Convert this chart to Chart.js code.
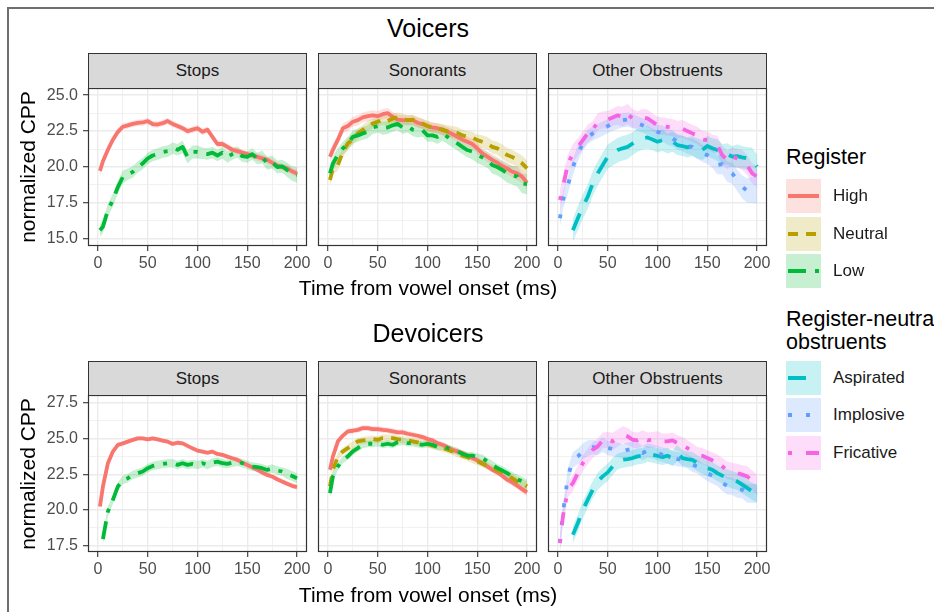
<!DOCTYPE html>
<html>
<head>
<meta charset="utf-8">
<script src="https://cdn.jsdelivr.net/npm/chart.js@4.4.1/dist/chart.umd.min.js"></script>
<style>
  html, body { margin: 0; padding: 0; background: #fff; }
  body { width: 934px; height: 612px; overflow: hidden; position: relative; font-family: "Liberation Sans", Arial, sans-serif; }
  #frame { position: absolute; left: 7px; top: 7px; width: 1200px; height: 1200px; border-left: 2px solid #6e6e6e; border-top: 2px solid #6e6e6e; }
  .c { position: absolute; transform: translate(-50%, -50%); white-space: nowrap; color: #000; }
  .rot { transform: translate(-50%, -50%) rotate(-90deg); }
  .strip { position: absolute; box-sizing: border-box; background: #D9D9D9; border: 1px solid #333; color: #1A1A1A; font-size: 17px; display: flex; align-items: center; justify-content: center; }
  canvas { position: absolute; }
  .lg-title { position: absolute; left: 786px; font-size: 21.5px; line-height: 23px; white-space: nowrap; color: #000; }
  .lg-key { position: absolute; left: 786px; width: 35px; height: 34px; }
  .lg-lab { position: absolute; left: 833px; font-size: 17px; color: #1A1A1A; transform: translateY(-50%); white-space: nowrap; }
</style>
</head>
<body>
<div id="frame"></div>
<script>
// time axis (ms) shared by every series
const time = [2, 5, 10, 15, 20, 25, 30, 35, 40, 45, 50, 55, 60, 65, 70, 75, 80, 85, 90, 95, 100,
  105, 110, 115, 120, 125, 130, 135, 140, 145, 150, 155, 160, 165, 170, 175, 180, 185, 190, 195, 200];
const xTicks = [0, 25, 50, 75, 100, 125, 150, 175, 200];
const yTicksVoicers = [15, 16.25, 17.5, 18.75, 20, 21.25, 22.5, 23.75, 25];
const yTicksDevoicers = [17.5, 18.75, 20, 21.25, 22.5, 23.75, 25, 26.25, 27.5];
const facetNames = ["Stops", "Sonorants", "Other Obstruents"];
const rowTitles = ["Voicers", "Devoicers"];
const registerNames = ["High", "Neutral", "Low"];
const obstruentNames = ["Aspirated", "Implosive", "Fricative"];

// ---- Voicers ----
const stopsHighV = [19.73,
  20.4, 21.2, 21.9, 22.45, 22.8, 22.9, 23.0, 23.07, 23.1, 23.2,
  22.98, 22.96, 23.05, 23.2, 23.0, 22.85, 22.7, 22.5, 22.6, 22.7,
  22.45, 22.6, 22.1, 21.6, 21.6, 21.4, 21.2, 21.1, 21.0, 20.9,
  20.8, 20.7, 20.6, 20.5, 20.3, 20.1, 20.0, 19.9, 19.7, 19.55];
const stopsLowV = [15.6,
  15.84, 17.0, 17.7, 18.6, 19.3, 19.5, 19.66, 20.0, 20.25, 20.6,
  20.8, 20.9, 21.05, 21.1, 21.3, 21.2, 21.4, 20.7, 21.05, 21.05,
  20.95, 20.9, 21.0, 20.8, 21.0, 20.7, 20.9, 21.05, 20.75, 20.7,
  20.9, 20.6, 20.7, 20.25, 20.35, 20.0, 20.05, 19.8, 19.55, 19.45];
const sonHighV = [20.72,
  21.2, 21.9, 22.7, 22.85, 23.15, 23.26, 23.45, 23.54, 23.6, 23.54,
  23.68, 23.75, 23.5, 23.3, 23.26, 23.26, 23.26, 23.08, 22.99, 22.85,
  22.75, 22.7, 22.57, 22.45, 22.3, 22.1, 21.9, 21.76, 21.6, 21.3,
  20.95, 20.72, 20.5, 20.3, 20.07, 19.9, 19.68, 19.56, 19.33, 18.9];
const sonNeutV = [19.1,
  19.9, 20.14, 21.07, 21.64, 21.92, 22.34, 22.57, 22.85, 23.03, 23.15,
  23.3, 23.2, 23.38, 23.45, 23.38, 23.26, 23.3, 23.15, 23.03, 22.85,
  22.75, 22.7, 22.6, 22.5, 22.45, 22.38, 22.2, 22.1, 22.06, 21.87,
  21.76, 21.64, 21.4, 21.3, 21.07, 20.83, 20.7, 20.5, 20.25, 19.9];
const sonLowV = [19.56,
  20.25, 20.83, 21.3, 21.64, 22.1, 22.2, 22.34, 22.45, 22.75, 22.85,
  22.7, 22.75, 22.9, 23.0, 22.75, 22.85, 22.6, 22.5, 22.55, 22.2,
  22.2, 22.1, 22.34, 22.1, 21.87, 21.64, 21.4, 21.18, 21.07, 20.83,
  20.67, 20.49, 20.14, 20.0, 19.8, 19.56, 19.44, 19.33, 18.87, 18.8];
const aspV = [null,
  null, null, 15.6, 16.43, 17.25, 17.94, 18.87, 19.56, 20.14, 20.72,
  20.95, 21.18, 21.3, 21.4, 21.64, 21.87, 22.0, 22.06, 21.92, 21.76,
  21.87, 21.64, 21.76, 21.53, 21.46, 21.37, 21.46, 21.3, 21.18, 21.46,
  21.3, 21.18, 20.83, 20.9, 20.72, 20.76, 20.67, 20.6, 20.49, 20.02];
const impV = [16.43,
  17.7, 18.75, 20.0, 20.95, 21.64, 22.1, 22.34, 22.5, 22.67, 22.85,
  23.03, 23.15, 23.26, 23.3, 23.2, 23.03, 22.9, 22.75, 22.6, 22.45,
  22.34, 22.1, 22.0, 21.76, 21.64, 21.46, 21.4, 21.18, 20.95, 20.83,
  20.6, 20.14, 20.2, 19.68, 19.56, 19.1, 18.63, 18.36, 18.4, 18.36];
const fricV = [17.7,
  18.63, 20.2, 20.95, 21.4, 21.87, 22.34, 22.6, 23.15, 23.26, 23.3,
  23.45, 23.6, 23.5, 23.68, 23.38, 23.26, 23.45, 23.38, 23.15, 22.9,
  22.85, 22.8, 22.75, 22.6, 22.67, 22.5, 22.34, 22.2, 21.92, 21.87,
  21.64, 21.53, 20.83, 20.49, 20.72, 20.6, 20.49, 20.14, 19.56, 19.33];

// ribbon half widths (Voicers)
const seStopsHighV = [0.35,
  0.3, 0.3, 0.25, 0.25, 0.22, 0.22, 0.22, 0.22, 0.22, 0.22,
  0.22, 0.22, 0.22, 0.22, 0.22, 0.22, 0.22, 0.22, 0.22, 0.22,
  0.22, 0.22, 0.22, 0.22, 0.22, 0.22, 0.22, 0.22, 0.22, 0.22,
  0.22, 0.25, 0.25, 0.25, 0.25, 0.25, 0.25, 0.25, 0.25, 0.25];
const seStopsLowV = [0.45,
  0.45, 0.45, 0.45, 0.45, 0.45, 0.4, 0.4, 0.4, 0.4, 0.4,
  0.4, 0.4, 0.4, 0.4, 0.4, 0.4, 0.45, 0.45, 0.45, 0.45,
  0.4, 0.4, 0.4, 0.4, 0.4, 0.4, 0.4, 0.4, 0.4, 0.4,
  0.4, 0.4, 0.45, 0.45, 0.45, 0.45, 0.45, 0.5, 0.5, 0.55];
const seSonHighV = [0.4,
  0.4, 0.35, 0.35, 0.35, 0.35, 0.35, 0.35, 0.35, 0.35, 0.35,
  0.35, 0.35, 0.35, 0.35, 0.35, 0.35, 0.35, 0.35, 0.35, 0.35,
  0.35, 0.35, 0.35, 0.35, 0.35, 0.35, 0.35, 0.35, 0.35, 0.35,
  0.35, 0.35, 0.4, 0.4, 0.4, 0.4, 0.4, 0.45, 0.45, 0.45];
const seSonNeutV = [0.45,
  0.4, 0.4, 0.4, 0.4, 0.4, 0.35, 0.35, 0.35, 0.35, 0.35,
  0.35, 0.35, 0.35, 0.35, 0.35, 0.35, 0.35, 0.35, 0.35, 0.35,
  0.35, 0.35, 0.4, 0.4, 0.4, 0.4, 0.4, 0.4, 0.4, 0.4,
  0.45, 0.45, 0.45, 0.45, 0.5, 0.5, 0.5, 0.5, 0.55, 0.55];
const seSonLowV = [0.5,
  0.5, 0.5, 0.45, 0.45, 0.45, 0.45, 0.45, 0.45, 0.45, 0.45,
  0.45, 0.45, 0.45, 0.45, 0.45, 0.45, 0.45, 0.45, 0.45, 0.45,
  0.45, 0.5, 0.5, 0.5, 0.5, 0.5, 0.5, 0.5, 0.55, 0.55,
  0.55, 0.55, 0.6, 0.6, 0.6, 0.65, 0.65, 0.7, 0.7, 0.7];
const seAspV = [null,
  null, null, 0.8, 0.85, 0.85, 0.85, 0.85, 0.85, 0.85, 0.85,
  0.85, 0.85, 0.85, 0.85, 0.8, 0.8, 0.8, 0.8, 0.75, 0.75,
  0.75, 0.7, 0.7, 0.7, 0.7, 0.7, 0.7, 0.7, 0.7, 0.7,
  0.7, 0.75, 0.75, 0.75, 0.75, 0.8, 0.8, 0.8, 0.85, 0.85];
const seImpV = [0.6,
  0.6, 0.6, 0.55, 0.55, 0.5, 0.5, 0.5, 0.5, 0.5, 0.5,
  0.5, 0.5, 0.5, 0.5, 0.5, 0.5, 0.5, 0.5, 0.5, 0.5,
  0.55, 0.55, 0.55, 0.55, 0.55, 0.55, 0.6, 0.6, 0.6, 0.6,
  0.65, 0.65, 0.7, 0.7, 0.75, 0.75, 0.8, 0.85, 0.9, 0.9];
const seFricV = [0.7,
  0.7, 0.65, 0.65, 0.6, 0.6, 0.6, 0.6, 0.6, 0.6, 0.6,
  0.6, 0.65, 0.7, 0.7, 0.65, 0.6, 0.6, 0.6, 0.6, 0.6,
  0.6, 0.6, 0.6, 0.6, 0.6, 0.6, 0.6, 0.6, 0.6, 0.6,
  0.6, 0.65, 0.65, 0.65, 0.65, 0.65, 0.7, 0.7, 0.7, 0.7];

// ---- Devoicers ----
const stopsHighD = [20.24,
  21.64, 23.27, 24.08, 24.55, 24.66, 24.78, 24.9, 25.01, 25.0, 24.94,
  25.0, 24.94, 24.85, 24.78, 24.62, 24.7, 24.66, 24.48, 24.31, 24.15,
  24.08, 24.0, 24.08, 23.92, 23.85, 23.73, 23.62, 23.5, 23.31, 23.15,
  22.99, 22.8, 22.62, 22.45, 22.34, 22.15, 21.99, 21.83, 21.69, 21.6];
const stopsLowD = [null,
  17.96, 19.9, 20.71, 21.64, 22.1, 22.22, 22.45, 22.57, 22.69, 22.92,
  23.08, 23.15, 23.22, 23.27, 23.27, 23.15, 23.27, 23.15, 23.22, 23.15,
  23.27, 23.15, 23.31, 23.38, 23.27, 23.22, 23.31, 23.38, 23.27, 23.15,
  23.03, 22.99, 22.92, 22.8, 22.9, 22.76, 22.69, 22.52, 22.38, 22.22];
const sonHighD = [22.81,
  23.75, 24.8, 25.2, 25.5, 25.54, 25.6, 25.73, 25.73, 25.66, 25.66,
  25.6, 25.57, 25.5, 25.43, 25.43, 25.33, 25.26, 25.19, 25.1, 24.96,
  24.87, 24.68, 24.56, 24.4, 24.21, 24.1, 23.98, 23.8, 23.63, 23.47,
  23.28, 23.05, 22.81, 22.63, 22.4, 22.12, 21.93, 21.7, 21.46, 21.23];
const sonNeutD = [21.65,
  22.81, 23.75, 24.1, 24.33, 24.56, 24.8, 24.87, 24.91, 24.96, 24.91,
  25.03, 25.03, 25.03, 24.96, 24.91, 24.87, 24.8, 24.73, 24.68, 24.61,
  24.5, 24.45, 24.33, 24.21, 24.1, 23.93, 23.8, 23.7, 23.51, 23.4,
  23.23, 23.09, 22.93, 22.77, 22.63, 22.4, 22.23, 22.0, 21.88, 21.65];
const sonLowD = [21.18,
  22.35, 23.05, 23.51, 23.75, 24.1, 24.33, 24.56, 24.63, 24.63, 24.68,
  24.56, 24.63, 24.56, 24.73, 24.8, 24.68, 24.68, 24.61, 24.56, 24.63,
  24.56, 24.4, 24.45, 24.33, 24.21, 24.1, 23.93, 23.8, 23.8, 23.7,
  23.63, 23.4, 23.16, 22.93, 22.77, 22.58, 22.35, 22.16, 22.0, 21.77];
const aspD = [null,
  null, null, 18.27, 19.09, 20.02, 20.72, 21.42, 22.0, 22.35, 22.63,
  23.05, 23.4, 23.51, 23.56, 23.63, 23.75, 23.79, 23.93, 23.86, 23.79,
  23.7, 23.79, 23.63, 23.98, 23.63, 23.56, 23.51, 23.28, 23.09, 22.93,
  22.81, 22.58, 22.4, 22.23, 22.12, 22.0, 21.77, 21.54, 21.3, 21.14];
const impD = [17.69,
  19.8, 22.35, 23.51, 23.75, 24.1, 24.33, 24.4, 24.33, 24.56, 24.33,
  24.26, 24.21, 24.1, 24.21, 24.26, 24.21, 23.98, 24.17, 24.1, 23.98,
  23.86, 23.75, 23.63, 23.56, 23.51, 23.4, 23.16, 23.05, 22.77, 22.58,
  22.4, 22.23, 21.88, 21.7, 21.65, 21.46, 21.42, 21.18, 21.14, 21.18];
const fricD = [17.69,
  19.55, 21.42, 21.88, 22.58, 23.28, 23.75, 24.21, 24.45, 24.87, 24.91,
  24.8, 25.03, 25.26, 25.15, 24.91, 24.87, 25.03, 24.87, 24.91, 24.96,
  24.8, 24.8, 24.87, 24.68, 24.56, 24.33, 24.1, 23.86, 23.79, 23.63,
  23.47, 23.28, 23.05, 22.77, 22.7, 22.58, 22.47, 22.35, 22.07, 21.77];

// ribbon half widths (Devoicers)
const seStopsHighD = [0.25,
  0.2, 0.18, 0.15, 0.15, 0.15, 0.15, 0.15, 0.15, 0.15, 0.15,
  0.15, 0.15, 0.15, 0.15, 0.15, 0.15, 0.15, 0.15, 0.15, 0.15,
  0.15, 0.15, 0.15, 0.15, 0.15, 0.15, 0.15, 0.15, 0.15, 0.15,
  0.15, 0.15, 0.15, 0.15, 0.15, 0.15, 0.15, 0.18, 0.18, 0.18];
const seStopsLowD = [null,
  0.35, 0.35, 0.3, 0.3, 0.3, 0.3, 0.3, 0.3, 0.3, 0.3,
  0.3, 0.3, 0.3, 0.3, 0.3, 0.3, 0.3, 0.3, 0.3, 0.3,
  0.3, 0.3, 0.3, 0.3, 0.3, 0.3, 0.3, 0.3, 0.3, 0.3,
  0.3, 0.3, 0.3, 0.3, 0.3, 0.3, 0.3, 0.35, 0.35, 0.35];
const seSonHighD = [0.25,
  0.22, 0.2, 0.2, 0.2, 0.2, 0.2, 0.2, 0.2, 0.2, 0.2,
  0.2, 0.2, 0.2, 0.2, 0.2, 0.2, 0.2, 0.2, 0.2, 0.2,
  0.2, 0.2, 0.2, 0.2, 0.2, 0.2, 0.2, 0.2, 0.2, 0.2,
  0.2, 0.2, 0.2, 0.2, 0.2, 0.22, 0.22, 0.22, 0.25, 0.25];
const seSonNeutD = [0.3,
  0.28, 0.25, 0.25, 0.25, 0.25, 0.25, 0.25, 0.25, 0.25, 0.25,
  0.25, 0.25, 0.25, 0.25, 0.25, 0.25, 0.25, 0.25, 0.25, 0.25,
  0.25, 0.25, 0.25, 0.25, 0.25, 0.25, 0.25, 0.25, 0.25, 0.25,
  0.25, 0.25, 0.25, 0.28, 0.28, 0.28, 0.3, 0.3, 0.3, 0.3];
const seSonLowD = [0.35,
  0.3, 0.28, 0.25, 0.25, 0.25, 0.25, 0.25, 0.25, 0.25, 0.25,
  0.25, 0.25, 0.25, 0.25, 0.25, 0.25, 0.25, 0.25, 0.25, 0.25,
  0.25, 0.25, 0.25, 0.25, 0.25, 0.25, 0.25, 0.25, 0.25, 0.25,
  0.25, 0.25, 0.28, 0.28, 0.3, 0.3, 0.3, 0.32, 0.32, 0.35];
const seAspD = [null,
  null, null, 0.6, 0.6, 0.6, 0.6, 0.6, 0.6, 0.6, 0.6,
  0.6, 0.55, 0.55, 0.55, 0.55, 0.55, 0.55, 0.55, 0.55, 0.55,
  0.55, 0.55, 0.55, 0.55, 0.55, 0.55, 0.55, 0.55, 0.55, 0.55,
  0.55, 0.55, 0.55, 0.6, 0.6, 0.6, 0.6, 0.6, 0.6, 0.6];
const seImpD = [0.6,
  0.6, 0.55, 0.55, 0.55, 0.55, 0.55, 0.5, 0.5, 0.5, 0.5,
  0.5, 0.5, 0.5, 0.5, 0.5, 0.5, 0.5, 0.5, 0.5, 0.5,
  0.5, 0.5, 0.5, 0.5, 0.5, 0.5, 0.5, 0.5, 0.5, 0.55,
  0.55, 0.55, 0.55, 0.6, 0.6, 0.6, 0.6, 0.65, 0.65, 0.65];
const seFricD = [0.6,
  0.6, 0.55, 0.55, 0.55, 0.55, 0.55, 0.55, 0.55, 0.55, 0.55,
  0.6, 0.6, 0.6, 0.6, 0.55, 0.55, 0.55, 0.55, 0.55, 0.55,
  0.55, 0.55, 0.55, 0.55, 0.55, 0.55, 0.55, 0.55, 0.55, 0.55,
  0.55, 0.6, 0.6, 0.6, 0.6, 0.65, 0.65, 0.7, 0.7, 0.7];

// look of each group (ggplot hue palette + linetypes)
const styles = {
  High:      { rgb: "248,118,109", dash: [] },
  Neutral:   { rgb: "183,159,0",   dash: [10, 8] },
  Low:       { rgb: "0,186,56",    dash: [18, 9, 4, 9] },
  Aspirated: { rgb: "0,191,196",   dash: [18, 13] },
  Implosive: { rgb: "97,156,255",  dash: [4, 14] },
  Fricative: { rgb: "245,100,227", dash: [4, 14, 13, 10] }
};

const panels = [
  { row: 0, col: 0, series: [["High", stopsHighV, seStopsHighV], ["Low", stopsLowV, seStopsLowV]] },
  { row: 0, col: 1, series: [["High", sonHighV, seSonHighV], ["Neutral", sonNeutV, seSonNeutV], ["Low", sonLowV, seSonLowV]] },
  { row: 0, col: 2, series: [["Aspirated", aspV, seAspV], ["Implosive", impV, seImpV], ["Fricative", fricV, seFricV]] },
  { row: 1, col: 0, series: [["High", stopsHighD, seStopsHighD], ["Low", stopsLowD, seStopsLowD]] },
  { row: 1, col: 1, series: [["High", sonHighD, seSonHighD], ["Neutral", sonNeutD, seSonNeutD], ["Low", sonLowD, seSonLowD]] },
  { row: 1, col: 2, series: [["Aspirated", aspD, seAspD], ["Implosive", impD, seImpD], ["Fricative", fricD, seFricD]] }
];

// page geometry
const colLeft = [88, 318, 548], plotW = 219;
const rowTop = [88, 395], plotH = [158, 157], stripH = [35, 34];
const yRange = [[14.5, 25.5], [17.06, 28.04]];
const yTicks = [yTicksVoicers, yTicksDevoicers];
const titleY = [28, 333], xTitleY = [288, 595];
const padT = 4, padR = 16, padB = 30;

Chart.defaults.font.family = "'Liberation Sans', Arial, sans-serif";

const panelBorder = {
  id: "panelBorder",
  afterDraw(chart) {
    const { ctx, chartArea: a } = chart;
    ctx.save();
    ctx.strokeStyle = "#333333";
    ctx.lineWidth = 1.2;
    ctx.strokeRect(Math.round(a.left) + 0.5, Math.round(a.top) + 0.5, Math.round(a.width) - 1, Math.round(a.height) - 1);
    ctx.restore();
  }
};

function addText(txt, x, y, size, cls) {
  const d = document.createElement("div");
  d.className = "c" + (cls ? " " + cls : "");
  d.style.left = x + "px";
  d.style.top = y + "px";
  d.style.fontSize = size + "px";
  d.textContent = txt;
  document.body.appendChild(d);
}

const isMajor = (v, step) => Math.abs(v / step - Math.round(v / step)) < 1e-6;

// keep the plot box exactly where we put it: no label overflow padding
function noPad(a) {
  a.paddingTop = 0; a.paddingBottom = 0; a.paddingLeft = 0; a.paddingRight = 0;
}

function makePanel(p) {
  const padL = p.col === 0 ? 70 : 4;
  const canvas = document.createElement("canvas");
  canvas.width = padL + plotW + padR;
  canvas.height = padT + plotH[p.row] + padB;
  canvas.style.left = (colLeft[p.col] - padL) + "px";
  canvas.style.top = (rowTop[p.row] - padT) + "px";
  document.body.appendChild(canvas);

  const strip = document.createElement("div");
  strip.className = "strip";
  strip.style.left = colLeft[p.col] + "px";
  strip.style.top = (rowTop[p.row] - stripH[p.row]) + "px";
  strip.style.width = plotW + "px";
  strip.style.height = (stripH[p.row] + 1) + "px";
  strip.textContent = facetNames[p.col];
  document.body.appendChild(strip);

  const datasets = [];
  p.series.forEach(([name, vals, se]) => {
    const st = styles[name];
    datasets.push({
      data: time.map((t, i) => ({ x: t, y: vals[i] == null ? null : vals[i] - se[i] })),
      borderWidth: 0, borderColor: "rgba(0,0,0,0)", pointRadius: 0, fill: false, order: 20
    });
    datasets.push({
      data: time.map((t, i) => ({ x: t, y: vals[i] == null ? null : vals[i] + se[i] })),
      borderWidth: 0, borderColor: "rgba(0,0,0,0)", pointRadius: 0, fill: "-1",
      backgroundColor: "rgba(" + st.rgb + ",0.22)", order: 20
    });
  });
  p.series.forEach(([name, vals], k) => {
    const st = styles[name];
    datasets.push({
      data: time.map((t, i) => ({ x: t, y: vals[i] })),
      borderColor: "rgb(" + st.rgb + ")", borderWidth: 3.8, borderDash: st.dash,
      borderJoinStyle: "round", pointRadius: 0, fill: false, tension: 0, order: 10 - k
    });
  });

  new Chart(canvas, {
    type: "line",
    data: { datasets },
    plugins: [panelBorder],
    options: {
      responsive: false, animation: false, events: [],
      layout: { padding: { top: padT, right: padR, left: 0, bottom: 0 } },
      plugins: { legend: { display: false }, tooltip: { enabled: false } },
      scales: {
        x: {
          type: "linear", min: -10, max: 210,
          afterBuildTicks: a => { a.ticks = xTicks.map(v => ({ value: v })); },
          afterFit: a => { a.height = padB; noPad(a); },
          border: { display: false },
          grid: {
            color: "#EBEBEB",
            lineWidth: c => (c.tick && isMajor(c.tick.value, 50)) ? 1.4 : 0.7,
            tickLength: 5, tickWidth: 1.1,
            tickColor: c => (c.tick && isMajor(c.tick.value, 50)) ? "#333333" : "rgba(0,0,0,0)"
          },
          ticks: {
            autoSkip: false, maxRotation: 0, padding: 3, color: "#4D4D4D", font: { size: 16 },
            callback: v => isMajor(v, 50) ? String(v) : ""
          }
        },
        y: {
          type: "linear", min: yRange[p.row][0], max: yRange[p.row][1],
          afterBuildTicks: a => { a.ticks = yTicks[p.row].map(v => ({ value: v })); },
          afterFit: a => { a.width = padL; noPad(a); },
          border: { display: false },
          grid: {
            color: "#EBEBEB",
            lineWidth: c => (c.tick && isMajor(c.tick.value, 2.5)) ? 1.4 : 0.7,
            drawTicks: p.col === 0,
            tickLength: 5, tickWidth: 1.1,
            tickColor: c => (c.tick && isMajor(c.tick.value, 2.5)) ? "#333333" : "rgba(0,0,0,0)"
          },
          ticks: {
            display: p.col === 0, autoSkip: false, padding: 5, color: "#4D4D4D", font: { size: 16 },
            callback: v => isMajor(v, 2.5) ? v.toFixed(1) : ""
          }
        }
      }
    }
  });
}

panels.forEach(makePanel);

// titles and axis titles
[0, 1].forEach(r => {
  addText(rowTitles[r], 428, titleY[r], 25);
  addText("Time from vowel onset (ms)", 428, xTitleY[r], 21);
  addText("normalized CPP", 28, rowTop[r] + plotH[r] / 2, 21, "rot");
});

// legends
const legendGroups = [
  { title: ["Register"], titleTop: 146, keyTops: [179, 217, 254], names: registerNames },
  { title: ["Register-neutral", "obstruents"], titleTop: 308, keyTops: [361, 398, 436], names: obstruentNames }
];
legendGroups.forEach(g => {
  const t = document.createElement("div");
  t.className = "lg-title";
  t.style.top = g.titleTop + "px";
  t.innerHTML = g.title.join("<br>");
  document.body.appendChild(t);
  g.names.forEach((name, i) => {
    const st = styles[name];
    const key = document.createElement("div");
    key.className = "lg-key";
    key.style.top = g.keyTops[i] + "px";
    key.innerHTML = '<svg width="35" height="34"><rect width="35" height="34" fill="rgba(' + st.rgb + ',0.22)"/>' +
      '<line x1="2" y1="17" x2="33" y2="17" stroke="rgb(' + st.rgb + ')" stroke-width="4" stroke-dasharray="' +
      (st.dash.length ? st.dash.join(",") : "none") + '"/></svg>';
    document.body.appendChild(key);
    const lab = document.createElement("div");
    lab.className = "lg-lab";
    lab.style.top = (g.keyTops[i] + 17) + "px";
    lab.textContent = name;
    document.body.appendChild(lab);
  });
});
</script>
</body>
</html>
